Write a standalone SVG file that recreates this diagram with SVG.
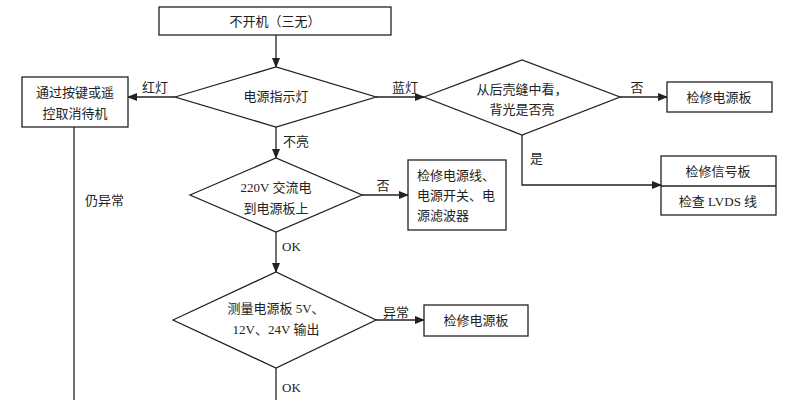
<svg xmlns="http://www.w3.org/2000/svg" width="797" height="400" viewBox="0 0 797 400">
<style>
.s{fill:#fff;stroke:#222;stroke-width:1.3}
.l{fill:none;stroke:#222;stroke-width:1.3}
text{font-family:"Liberation Serif","Noto Sans CJK SC",serif;font-size:13px;fill:#222}
.c{text-anchor:middle}
</style>
<defs><marker id="a" markerWidth="10" markerHeight="8" refX="9" refY="4" orient="auto" markerUnits="userSpaceOnUse"><path d="M0,0L10,4L0,8z" fill="#222"/></marker></defs>
<rect width="797" height="400" fill="#fff"/>
<g id="connectors">
<path class="l" d="M276,35V67" marker-end="url(#a)"/>
<path class="l" d="M175,97H128" marker-end="url(#a)"/>
<path class="l" d="M74,127V400"/>
<path class="l" d="M376,97H424" marker-end="url(#a)"/>
<path class="l" d="M620,97H667" marker-end="url(#a)"/>
<path class="l" d="M522,135V185H661" marker-end="url(#a)"/>
<path class="l" d="M276,127V158" marker-end="url(#a)"/>
<path class="l" d="M362,195H408" marker-end="url(#a)"/>
<path class="l" d="M276,232V272" marker-end="url(#a)"/>
<path class="l" d="M376,320H424" marker-end="url(#a)"/>
<path class="l" d="M276,368V400"/>
<text x="155" y="92" class="c">红灯</text>
<text x="85" y="205">仍异常</text>
<text x="392" y="92">蓝灯</text>
<text x="637" y="92" class="c">否</text>
<text x="530" y="163">是</text>
<text x="283" y="146">不亮</text>
<text x="383" y="190" class="c">否</text>
<text x="282" y="251">OK</text>
<text x="383" y="317">异常</text>
<text x="282" y="392">OK</text>
</g>
<g id="start"><rect class="s" x="159" y="7" width="232" height="28"/><text x="275" y="26" class="c">不开机（三无）</text></g>
<g id="d1"><path class="s" d="M175,97L276,67L376,97L276,127z"/><text x="276" y="101" class="c">电源指示灯</text></g>
<g id="standby"><rect class="s" x="22" y="77" width="106" height="50"/><text x="75" y="97" class="c">通过按键或遥</text><text x="75" y="118" class="c">控取消待机</text></g>
<g id="d2"><path class="s" d="M424,97L522,60L620,97L522,135z"/><text x="522" y="94" class="c">从后壳缝中看，</text><text x="522" y="114" class="c">背光是否亮</text></g>
<g id="psu1"><rect class="s" x="667" y="82" width="105" height="30"/><text x="719" y="102" class="c">检修电源板</text></g>
<g id="sig"><rect class="s" x="661" y="156" width="115" height="59"/><path class="l" d="M661,186H776"/><text x="718" y="176" class="c">检修信号板</text><text x="718" y="206" class="c">检查 LVDS 线</text></g>
<g id="d3"><path class="s" d="M190,195L276,158L362,195L276,232z"/><text x="276" y="192" class="c">220V 交流电</text><text x="276" y="213" class="c">到电源板上</text></g>
<g id="line"><rect class="s" x="408" y="160" width="98" height="70"/><text x="417" y="180">检修电源线、</text><text x="417" y="200">电源开关、电</text><text x="417" y="220">源滤波器</text></g>
<g id="d4"><path class="s" d="M173,320L276,272L376,320L276,368z"/><text x="276" y="313" class="c">测量电源板 5V、</text><text x="276" y="334" class="c">12V、24V 输出</text></g>
<g id="psu2"><rect class="s" x="424" y="305" width="104" height="31"/><text x="476" y="325" class="c">检修电源板</text></g>
</svg>
